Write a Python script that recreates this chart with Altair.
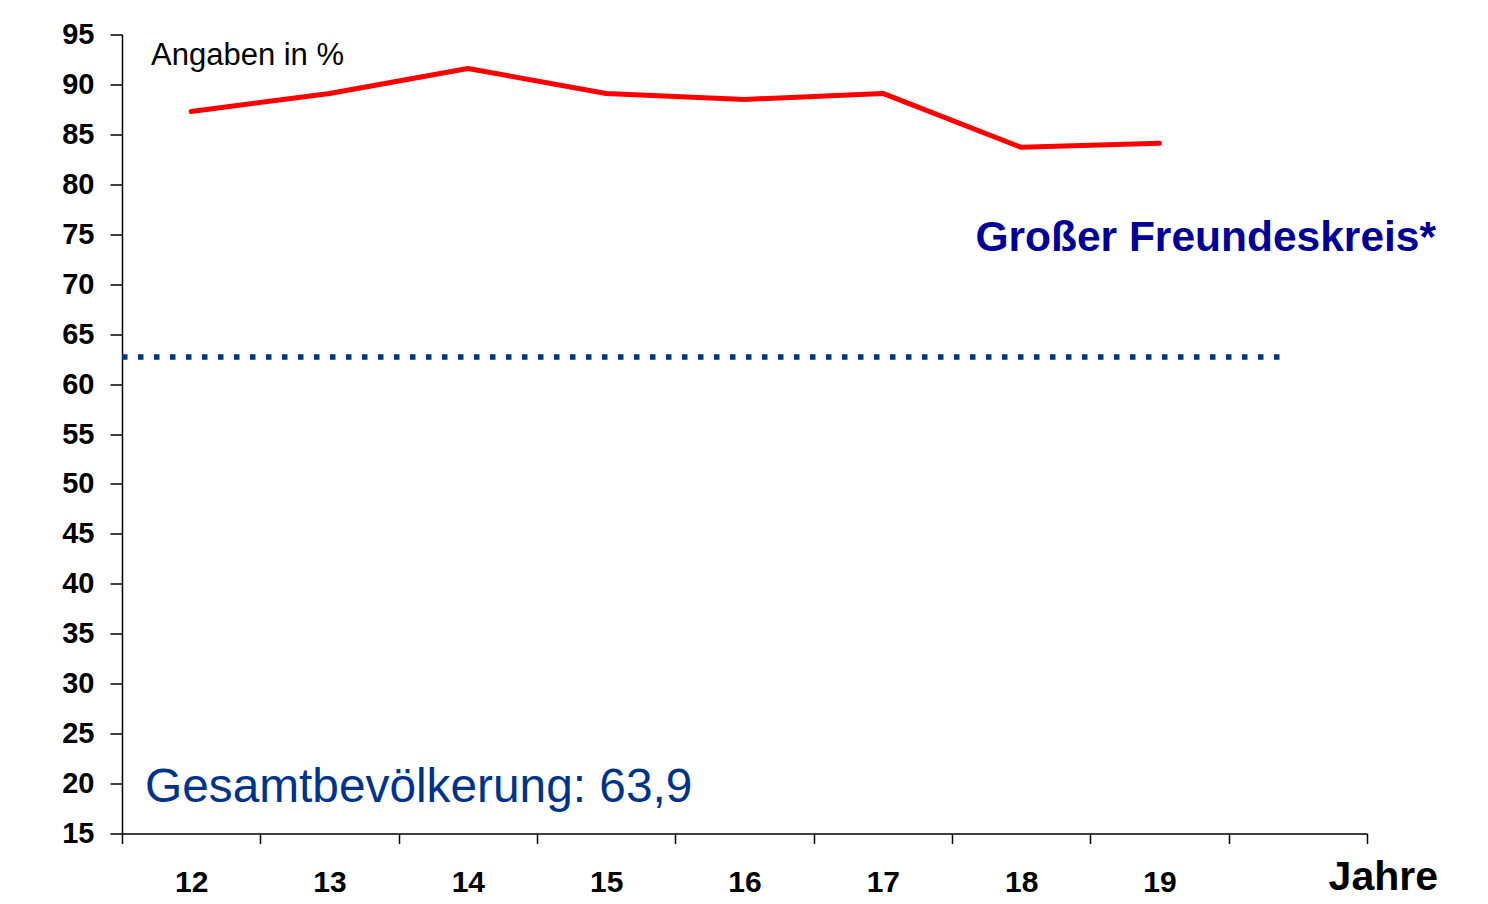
import altair as alt
import pandas as pd

# Data
years = [12, 13, 14, 15, 16, 17, 18, 19]
grosser_freundeskreis = [87.3, 89.1, 91.6, 89.1, 88.5, 89.1, 83.7, 84.1]
gesamt_line_value = [62.7]
gesamt_line_start = [11.5]
gesamt_line_end = [19.9]
x_tick_values = [11.5, 12, 12.5, 13, 13.5, 14, 14.5, 15, 15.5, 16, 16.5, 17, 17.5,
                 18, 18.5, 19, 19.5, 20, 20.5]
y_tick_values = list(range(15, 100, 5))

df = pd.DataFrame({"Jahr": years, "Wert": grosser_freundeskreis})
gdf = pd.DataFrame({"x": gesamt_line_start, "x2": gesamt_line_end, "y": gesamt_line_value})

W, H = 1245, 799

x_scale = alt.Scale(domain=[11.5, 20.5], nice=False, zero=False)
y_scale = alt.Scale(domain=[15, 95], nice=False, zero=False)

x_axis = alt.Axis(
    values=x_tick_values,
    title=None,
    grid=False,
    domainColor="black",
    domainWidth=1.5,
    tickColor="black",
    tickWidth=1.5,
    tickSize=10,
    tickOpacity={"condition": {"test": "datum.value % 1 == 0", "value": 0}, "value": 1},
    labelExpr="(datum.value % 1 == 0 && datum.value <= 19) ? format(datum.value, 'd') : ''",
    labelFont="Liberation Sans",
    labelFontWeight="bold",
    labelFontSize=30,
    labelColor="black",
    labelPadding=24,
    labelOverlap=False,
    labelFlush=False,
)

y_axis = alt.Axis(
    values=y_tick_values,
    title=None,
    grid=False,
    domainColor="black",
    domainWidth=1.5,
    tickColor="black",
    tickWidth=1.5,
    tickSize=12,
    labelFont="Liberation Sans",
    labelFontWeight="bold",
    labelFontSize=29,
    labelColor="black",
    labelPadding=16,
    labelOverlap=False,
    labelFlush=False,
)

line = alt.Chart(df).mark_line(color="#ff0000", strokeWidth=5, strokeJoin="round", strokeCap="round").encode(
    x=alt.X("Jahr:Q", scale=x_scale, axis=x_axis),
    y=alt.Y("Wert:Q", scale=y_scale, axis=y_axis),
)

dotted = alt.Chart(gdf).mark_rule(color="#00338a", strokeWidth=5.5, strokeDash=[5.5, 10.5], strokeCap="butt").encode(
    x=alt.X("x:Q", scale=x_scale),
    x2="x2:Q",
    y=alt.Y("y:Q", scale=y_scale),
)

def label(text, x, y, size, color, weight="normal", align="left"):
    return alt.Chart(pd.DataFrame({"t": [text]})).mark_text(
        font="Liberation Sans", fontSize=size, fontWeight=weight, color=color,
        align=align, baseline="alphabetic",
    ).encode(text="t:N", x=alt.value(x), y=alt.value(y))

texts = [
    label("Angaben in %", 29, 30.5, 31, "black"),
    label("Großer Freundeskreis*", 1314, 216, 42.5, "#000099", "bold", "right"),
    label("Gesamtbevölkerung: 63,9", 23, 767, 47.8, "#00338a"),
    label("Jahre", 1316, 855, 41, "black", "bold", "right"),
]

chart = alt.layer(dotted, line, *texts).properties(
    width=W,
    height=H,
    autosize=alt.AutoSizeParams(type="none"),
    padding={"left": 114, "top": 26.5, "right": 100, "bottom": 70},
    background="white",
).configure_view(stroke=None)

chart.save("out.html", embed_options={"renderer": "svg", "actions": False})
